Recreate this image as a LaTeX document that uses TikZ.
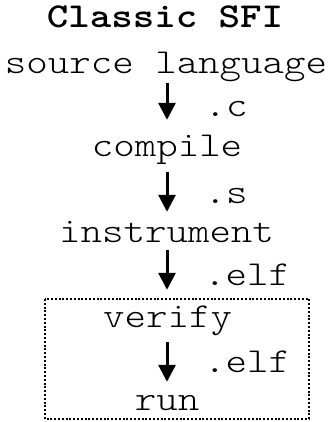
\documentclass[tikz,border=0pt]{standalone}
\usepackage{fontspec}
\newfontfamily\courfont{lmmonolt10-regular}[Extension=.otf, BoldFont=lmmonolt10-bold, FakeStretch=1.17]
\usetikzlibrary{arrows.meta}
\begin{document}
\begin{tikzpicture}[x=1pt, y=-1pt,
  txt/.style={inner sep=0pt, anchor=base, text height=22pt, text depth=8pt, font=\courfont\fontsize{35}{35}\selectfont},
  ext/.style={inner sep=0pt, anchor=base west, font=\courfont\fontsize{35}{35}\selectfont},
  flow/.style={-{Triangle[width=17pt, length=17pt]}, line width=3pt},
  sandbox/.style={line width=2.4pt, dash pattern=on 2pt off 1.8pt}]
\useasboundingbox (0,0) rectangle (331,422);
\node[txt, font=\courfont\bfseries\fontsize{35}{35}\selectfont] (T) at (165,28) {Classic SFI};
\node[txt] (S) at (166,74) {source language};
\node[txt] (C) at (167,157) {compile};
\node[txt] (I) at (166.5,242) {instrument};
\node[txt] (V) at (167.5,327) {verify};
\node[txt] (R) at (167,410) {run};
\node[ext] (Lc) at (204.5,117) {.c};
\node[ext] (Ls) at (204.5,203) {.s};
\node[ext] (Le) at (204,285) {.elf};
\node[ext] (Lv) at (204,372) {.elf};
\draw[flow, shorten <=1pt, shorten >=15pt] (S.south -| 167,0) -- (C.north -| 167,0);
\draw[flow, shorten <=7pt, shorten >=8pt] (C.south -| 167,0) -- (I.north -| 167,0);
\draw[flow, shorten >=15pt] (I.south -| 167,0) -- (V.north -| 167,0);
\draw[flow, shorten <=7pt, shorten >=6pt] (V.south -| 167,0) -- (R.north -| 167,0);
% verify and run sit in the dotted box
\draw[sandbox] (45,299) rectangle (309,419);
\end{tikzpicture}
\end{document}
